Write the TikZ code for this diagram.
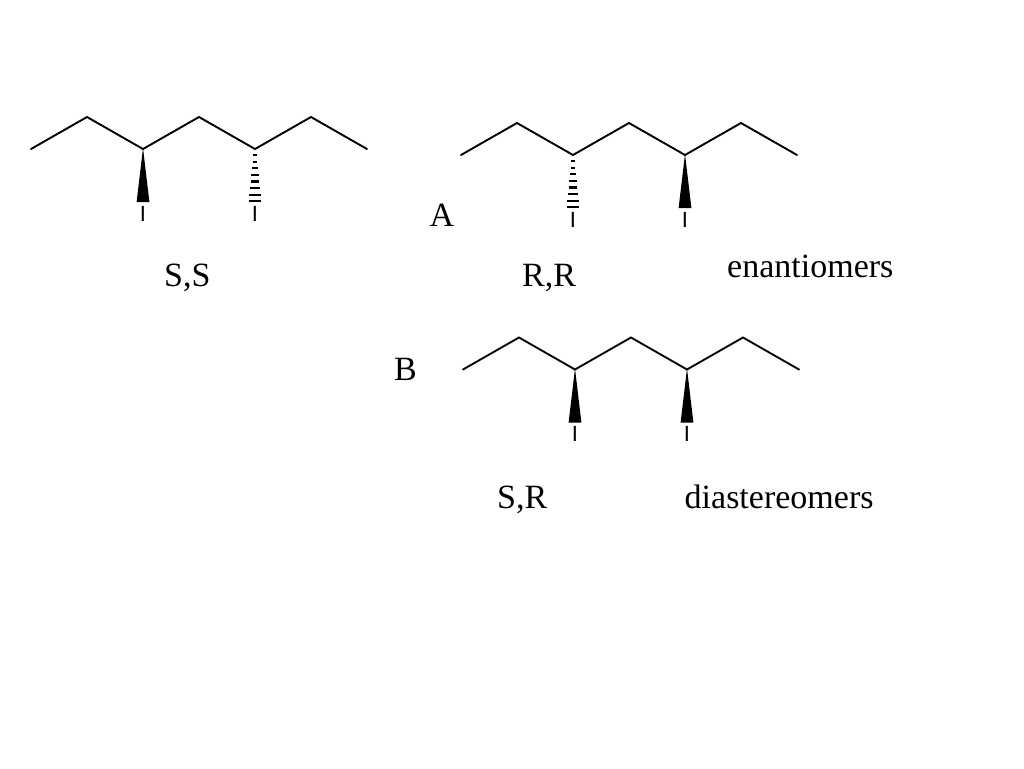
\documentclass[tikz,border=0pt]{standalone}
\usepackage{fontspec}
\setmainfont{Liberation Serif}
\newfontfamily\atomfont{Liberation Sans}
\usetikzlibrary{calc}
\tikzset{
  bond/.style={line width=1.9pt, line cap=round, line join=miter},
  wedgebond/.style={fill=black, draw=none},
  hashbar/.style={line width=2.2pt},
  label/.style={font=\fontsize{34}{40}\selectfont, anchor=base west, inner sep=0pt},
  iodine/.style={font=\atomfont\fontsize{22}{24}\selectfont, inner sep=0pt}
}
% zigzag backbone, named #1c1 ... #1c7
\newcommand{\backbone}[1]{
  \foreach \n/\xc/\yc in {1/0/32, 2/56/0, 3/112/32, 4/168/0, 5/224/32, 6/280/0, 7/336/32}
    \coordinate (#1c\n) at (\xc,\yc);
  \draw[bond] (#1c1) -- (#1c2) -- (#1c3) -- (#1c4) -- (#1c5) -- (#1c6) -- (#1c7);
}
% solid wedge from a backbone carbon down to an iodine
\newcommand{\wedgedown}[2]{
  \fill[wedgebond] ($(#1)+(0,-1)$) -- ($(#1)+(6.4,53)$) -- ($(#1)+(-6.4,53)$) -- cycle;
  \node[iodine] (#2) at ($(#1)+(0,64.5)$) {I};
}
% hashed wedge
\newcommand{\hashdown}[2]{
  \foreach \i in {1,...,8}
    \draw[hashbar] ($(#1)+({-1-0.67*\i},{6.6*\i-0.6})$) -- ($(#1)+({1+0.67*\i},{6.6*\i-0.6})$);
  \node[iodine] (#2) at ($(#1)+(0,64.5)$) {I};
}
\begin{document}
\begin{tikzpicture}[x=1pt,y=-1pt]
  \useasboundingbox (0,0) rectangle (1024,768);

  % S,S
  \begin{scope}[shift={(31,117)}]
    \backbone{p}
    \wedgedown{pc3}{pi1}
    \hashdown{pc5}{pi2}
  \end{scope}
  \node[label] (ss) at (164,286) {S,S};

  % R,R
  \begin{scope}[shift={(461,123)}]
    \backbone{q}
    \hashdown{qc3}{qi1}
    \wedgedown{qc5}{qi2}
  \end{scope}
  \node[label] (mola) at (429.5,226) {A};
  \node[label] (rr) at (522,286) {R,R};
  \node[label] (enant) at (727,277) {enantiomers};

  % S,R
  \begin{scope}[shift={(463,337.5)}]
    \backbone{r}
    \wedgedown{rc3}{ri1}
    \wedgedown{rc5}{ri2}
  \end{scope}
  \node[label] (molb) at (394,380) {B};
  \node[label] (sr) at (497,508) {S,R};
  \node[label] (dia) at (684.5,508) {diastereomers};
\end{tikzpicture}
\end{document}
